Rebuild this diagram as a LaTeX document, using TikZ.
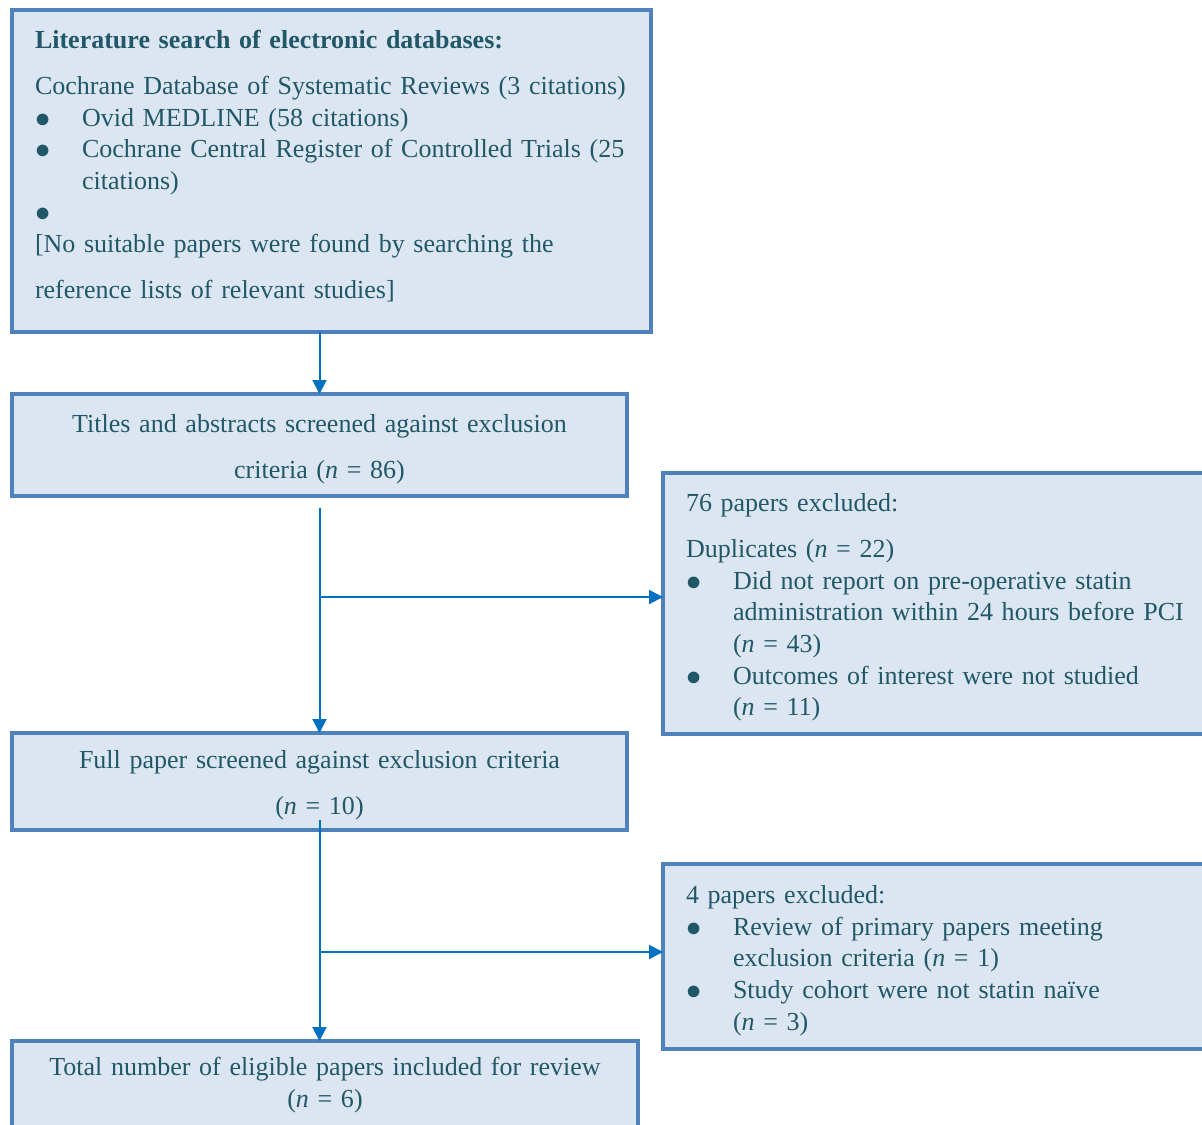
\documentclass[tikz,border=0pt]{standalone}
\usepackage{fontspec}
\setmainfont{Liberation Serif}
\usepackage{graphicx}
\usepackage{xcolor}
\usetikzlibrary{arrows.meta, positioning}

\definecolor{boxfill}{HTML}{DCE6F2}
\definecolor{boxline}{HTML}{4F81BD}
\definecolor{arrowblue}{HTML}{0070C0}
\definecolor{textteal}{HTML}{215868}

\newcommand{\dotmark}{\smash{\raisebox{-0.02cm}{\scalebox{1.2}{$\bullet$}}}}
\newcommand{\bul}{\makebox[0.94cm][l]{\dotmark}}
\newcommand{\ind}{\hspace*{0.94cm}}
\newcommand{\nn}{\textit{n}}

\begin{document}
\begin{tikzpicture}[
        box/.style={draw=boxline, fill=boxfill, line width=0.08cm, outer sep=0pt,
            inner xsep=0.46cm, anchor=north west, text=textteal,
            font=\fontsize{14.8}{18}\selectfont,
            execute at begin node={\rule{0pt}{0.52cm}}},
        leftbox/.style={box, align=left},
        midbox/.style={box, align=center},
        arr/.style={draw=arrowblue, line width=0.04cm,
            -{Triangle[length=0.28cm, width=0.28cm]}}
    ]
        \useasboundingbox (0, 0) rectangle (24.04, -22.48);
        \clip (0, 0) rectangle (24.04, -22.48);

        \node[leftbox, text width=11.86cm, minimum height=6.44cm] (search) at (0.24, -0.2) {
            \textbf{Literature search of electronic databases:}\\[0.28cm]
            \mbox{Cochrane Database of Systematic Reviews (3 citations)}\\
            \bul Ovid MEDLINE (58 citations)\\
            \mbox{\bul Cochrane Central Register of Controlled Trials (25}\\
            \ind citations)\\
            \dotmark\\
            {[}No suitable papers were found by searching the\\[0.28cm]
            reference lists of relevant studies]\rule[-0.42cm]{0pt}{0pt}};
        \node[midbox, text width=11.38cm, minimum height=2.04cm] (titles) at (0.24, -7.88) {
            Titles and abstracts screened against exclusion\\[0.28cm]
            criteria (\nn{} = 86)};
        \node[leftbox, text width=10.32cm, minimum height=5.22cm] (excl1) at (13.26, -9.46) {
            76 papers excluded:\\[0.28cm]
            Duplicates (\nn{} = 22)\\
            \bul Did not report on pre-operative statin\\
            \mbox{\ind administration within 24 hours before PCI}\\
            \ind (\nn{} = 43)\\
            \bul Outcomes of interest were not studied\\
            \ind (\nn{} = 11)};
        \node[midbox, text width=11.38cm, minimum height=1.94cm] (fullpaper) at (0.24, -14.66) {
            Full paper screened against exclusion criteria\\[0.28cm]
            (\nn{} = 10)};
        \node[leftbox, text width=10.32cm, minimum height=3.70cm] (excl2) at (13.26, -17.28) {
            4 papers excluded:\\
            \bul Review of primary papers meeting\\
            \ind exclusion criteria (\nn{} = 1)\\
            \bul Study cohort were not statin na\"ive\\
            \ind (\nn{} = 3)};
        \node[midbox, text width=11.6cm, inner ysep=0.17cm] (total) at (0.24, -20.82) {
            Total number of eligible papers included for review\\
            (\nn{} = 6)\rule[-0.9cm]{0pt}{0pt}};

        \coordinate (split1) at (6.39, -11.94);
        \coordinate (split2) at (6.39, -19.04);

        \draw[arr] (search.south -| titles.north) to (titles.north);
        \draw[arr] ([yshift=-0.24cm]titles.south) to (fullpaper.north);
        \draw[arr] (split1) to (split1 -| excl1.west);
        \draw[arr] ([yshift=0.2cm]fullpaper.south) to (fullpaper.south |- total.north);
        \draw[arr] (split2) to (split2 -| excl2.west);
    \end{tikzpicture}
\end{document}
